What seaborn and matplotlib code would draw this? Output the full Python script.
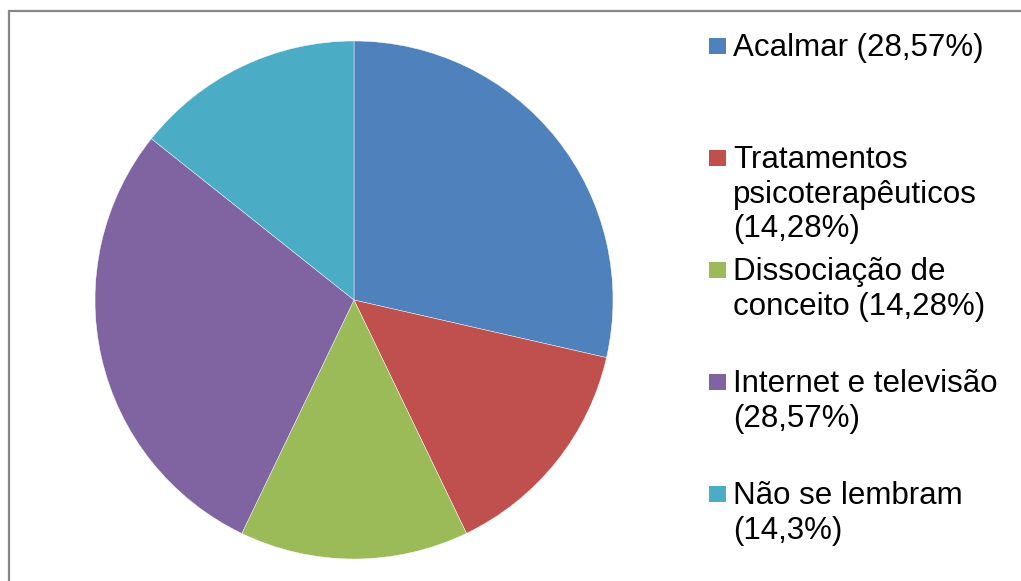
import matplotlib
matplotlib.use('Agg')
import matplotlib.pyplot as plt
import seaborn as sns
from matplotlib.patches import Rectangle

# Data
categorias = ['Acalmar', 'Tratamentos psicoterapêuticos', 'Dissociação de conceito',
              'Internet e televisão', 'Não se lembram']
valores = [28.57, 14.28, 14.28, 28.57, 14.3]
rotulos = ['Acalmar (28,57%)',
           'Tratamentos\npsicoterapêuticos\n(14,28%)',
           'Dissociação de\nconceito (14,28%)',
           'Internet e televisão\n(28,57%)',
           'Não se lembram\n(14,3%)']

sns.set_theme(style='white')
plt.rcParams['font.family'] = ['Liberation Sans', 'DejaVu Sans']
cores = sns.color_palette(['#4F81BD', '#C0504D', '#9BBB59', '#8064A2', '#4BACC6'])

W, H = 1021, 581
fig = plt.figure(figsize=(W / 100, H / 100), dpi=100)

# pie centred at (354, 300) px, radius 259 px
cx, cy, r = 354, 300, 259
ax = fig.add_axes([(cx - r) / W, (H - cy - r) / H, 2 * r / W, 2 * r / H])
ax.pie(valores, colors=cores, startangle=90, counterclock=False, radius=1,
       wedgeprops=dict(edgecolor='white', linewidth=0.3))
ax.set_xlim(-1, 1)
ax.set_ylim(-1, 1)
ax.set_aspect('auto')
ax.axis('off')

# chart frame (only top and left edges visible)
fig.patches.append(Rectangle((8.5 / W, -0.1), 1.2, 1.1 - 11 / H, transform=fig.transFigure,
                             fill=False, edgecolor='#878787', linewidth=1.6))

# legend drawn by hand with equal slots like the original
top = 46
passo = 112
for i, (rot, cor) in enumerate(zip(rotulos, cores)):
    yc = top + i * passo
    fig.patches.append(Rectangle((709 / W, 1 - (yc + 8) / H), 16.5 / W, 16.5 / H,
                                 transform=fig.transFigure, facecolor=cor, edgecolor='none'))
    fig.text(733 / W, 1 - (yc - 13) / H, rot, fontsize=22.5, color='black',
             va='top', ha='left', linespacing=1.2)

fig.savefig('out.png', dpi=100, facecolor='white')
